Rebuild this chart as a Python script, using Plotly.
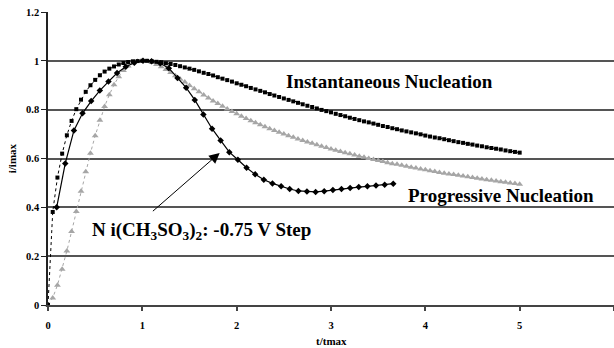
import plotly.graph_objects as go

# Dimensionless time t/tmax for the two theoretical nucleation models
t_theory = [
    0.00, 0.05, 0.10, 0.15, 0.20, 0.25, 0.30, 0.35, 0.40, 0.45, 0.50,
    0.55, 0.60, 0.65, 0.70, 0.75, 0.80, 0.85, 0.90, 0.95, 1.00,
    1.05, 1.10, 1.15, 1.20, 1.25, 1.30, 1.35, 1.40, 1.45, 1.50,
    1.55, 1.60, 1.65, 1.70, 1.75, 1.80, 1.85, 1.90, 1.95, 2.00,
    2.05, 2.10, 2.15, 2.20, 2.25, 2.30, 2.35, 2.40, 2.45, 2.50,
    2.55, 2.60, 2.65, 2.70, 2.75, 2.80, 2.85, 2.90, 2.95, 3.00,
    3.05, 3.10, 3.15, 3.20, 3.25, 3.30, 3.35, 3.40, 3.45, 3.50,
    3.55, 3.60, 3.65, 3.70, 3.75, 3.80, 3.85, 3.90, 3.95, 4.00,
    4.05, 4.10, 4.15, 4.20, 4.25, 4.30, 4.35, 4.40, 4.45, 4.50,
    4.55, 4.60, 4.65, 4.70, 4.75, 4.80, 4.85, 4.90, 4.95, 5.00,
]

# i/imax, instantaneous nucleation
i_instantaneous = [
    0.000,
    0.381, 0.522, 0.620, 0.695, 0.754, 0.802, 0.841, 0.873, 0.900, 0.922,
    0.941, 0.956, 0.968, 0.977, 0.985, 0.991, 0.995, 0.998, 0.999, 1.000,
    1.000, 0.998, 0.996, 0.994, 0.990, 0.987, 0.983, 0.978, 0.973, 0.968,
    0.963, 0.957, 0.951, 0.946, 0.940, 0.933, 0.927, 0.921, 0.915, 0.908,
    0.902, 0.896, 0.889, 0.883, 0.877, 0.871, 0.864, 0.858, 0.852, 0.846,
    0.840, 0.834, 0.828, 0.822, 0.816, 0.811, 0.805, 0.799, 0.794, 0.789,
    0.783, 0.778, 0.773, 0.767, 0.762, 0.757, 0.752, 0.748, 0.743, 0.738,
    0.733, 0.729, 0.724, 0.720, 0.715, 0.711, 0.707, 0.703, 0.699, 0.694,
    0.690, 0.686, 0.683, 0.679, 0.675, 0.671, 0.667, 0.664, 0.660, 0.657,
    0.653, 0.650, 0.646, 0.643, 0.640, 0.637, 0.633, 0.630, 0.627, 0.624,
]

# i/imax, progressive nucleation
i_progressive = [
    0.000,
    0.029, 0.081, 0.146, 0.221, 0.301, 0.383, 0.466, 0.546, 0.622, 0.693,
    0.757, 0.813, 0.861, 0.902, 0.935, 0.960, 0.979, 0.991, 0.998, 1.000,
    0.998, 0.993, 0.985, 0.976, 0.964, 0.952, 0.939, 0.926, 0.913, 0.899,
    0.886, 0.873, 0.860, 0.848, 0.836, 0.825, 0.814, 0.803, 0.793, 0.783,
    0.773, 0.764, 0.755, 0.746, 0.738, 0.730, 0.722, 0.715, 0.707, 0.700,
    0.693, 0.687, 0.680, 0.674, 0.668, 0.662, 0.656, 0.650, 0.645, 0.639,
    0.634, 0.629, 0.624, 0.619, 0.614, 0.609, 0.605, 0.600, 0.596, 0.592,
    0.588, 0.583, 0.579, 0.576, 0.572, 0.568, 0.564, 0.561, 0.557, 0.554,
    0.550, 0.547, 0.543, 0.540, 0.537, 0.534, 0.531, 0.528, 0.525, 0.522,
    0.519, 0.516, 0.513, 0.511, 0.508, 0.505, 0.503, 0.500, 0.498, 0.495,
]

# Measured transient, Ni(CH3SO3)2 at -0.75 V
t_measured = [
    0.092, 0.183, 0.275, 0.366, 0.458, 0.549, 0.641, 0.732, 0.824, 0.915,
    1.007, 1.098, 1.190, 1.281, 1.373, 1.464, 1.556, 1.647, 1.739, 1.830,
    1.922, 2.013, 2.105, 2.196, 2.288, 2.379, 2.471, 2.562, 2.654, 2.745,
    2.837, 2.928, 3.020, 3.111, 3.203, 3.294, 3.386, 3.477, 3.569, 3.660,
]
i_measured = [
    0.400, 0.580, 0.715, 0.785, 0.835, 0.878, 0.915, 0.950, 0.976, 0.992,
    1.000, 0.998, 0.990, 0.970, 0.930, 0.890, 0.840, 0.780, 0.722, 0.674,
    0.626, 0.595, 0.562, 0.535, 0.513, 0.498, 0.486, 0.475, 0.467, 0.465,
    0.463, 0.466, 0.471, 0.475, 0.479, 0.483, 0.486, 0.489, 0.493, 0.497,
]

x_ticks = [0, 1, 2, 3, 4, 5, 6]
y_ticks = [0, 0.2, 0.4, 0.6, 0.8, 1.0, 1.2]
y_tick_text = ["0", "0.2", "0.4", "0.6", "0.8", "1", "1.2"]

SERIF = "Liberation Serif"

fig = go.Figure()

fig.add_trace(go.Scatter(
    x=t_theory, y=i_progressive, mode="lines+markers",
    line=dict(color="#a6a6a6", width=1, dash="dot"),
    marker=dict(symbol="triangle-up", size=6, color="#a6a6a6"),
    cliponaxis=False, showlegend=False,
))
fig.add_trace(go.Scatter(
    x=t_theory, y=i_instantaneous, mode="lines+markers",
    line=dict(color="black", width=1, dash="dot"),
    marker=dict(symbol="square", size=4, color="black"),
    cliponaxis=False, showlegend=False,
))
fig.add_trace(go.Scatter(
    x=t_measured, y=i_measured, mode="lines+markers",
    line=dict(color="black", width=1.2),
    marker=dict(symbol="diamond", size=5, color="black"),
    showlegend=False,
))

label_font = dict(family=SERIF, size=19, color="black", weight="bold")

fig.add_annotation(
    x=2.50, y=0.915, xref="x", yref="y", text="Instantaneous Nucleation",
    showarrow=False, xanchor="left", yanchor="middle", font=label_font,
)
fig.add_annotation(
    x=3.80, y=0.45, xref="x", yref="y", text="Progressive Nucleation",
    showarrow=False, xanchor="left", yanchor="middle", font=label_font,
)
fig.add_annotation(
    x=0.44, y=0.305, xref="x", yref="y",
    text="N i(CH<sub>3</sub>SO<sub>3</sub>)<sub>2</sub>: -0.75 V Step",
    showarrow=False, xanchor="left", yanchor="middle", font=label_font,
)
# Arrow pointing from the label to the measured curve
fig.add_annotation(
    x=1.82, y=0.623, xref="x", yref="y",
    ax=1.096, ay=0.379, axref="x", ayref="y",
    text="", showarrow=True, arrowhead=2, arrowsize=2.1,
    arrowwidth=1, arrowcolor="black",
)

axis_title_font = dict(family=SERIF, size=11, color="black", weight="bold")
fig.add_annotation(
    x=0.5, y=-0.124, xref="paper", yref="paper", text="t/tmax",
    showarrow=False, xanchor="center", yanchor="middle", font=axis_title_font,
)
fig.add_annotation(
    x=-0.064, y=0.5, xref="paper", yref="paper", text="i/imax",
    showarrow=False, textangle=-90, xanchor="center", yanchor="middle",
    font=axis_title_font,
)

tick_font = dict(family=SERIF, size=10.5, color="black", weight="bold")

fig.update_xaxes(
    range=[0, 6], tickvals=x_ticks, showgrid=False, zeroline=False,
    showline=True, linecolor="#444444", linewidth=2,
    ticks="outside", ticklen=4, tickcolor="#444444", tickwidth=1.5,
    ticklabelstandoff=5, tickfont=tick_font,
)
fig.update_yaxes(
    range=[0, 1.2], tickvals=y_ticks, ticktext=y_tick_text,
    showgrid=True, gridcolor="#555555", gridwidth=1.7, zeroline=False,
    showline=True, linecolor="#222222", linewidth=1.5,
    ticks="outside", ticklen=5, tickcolor="#222222", tickwidth=1,
    tickfont=tick_font,
)

fig.update_layout(
    width=614, height=348,
    margin=dict(l=48, r=0, t=12, b=43),
    paper_bgcolor="white", plot_bgcolor="white",
)

fig.write_html("out.html")
